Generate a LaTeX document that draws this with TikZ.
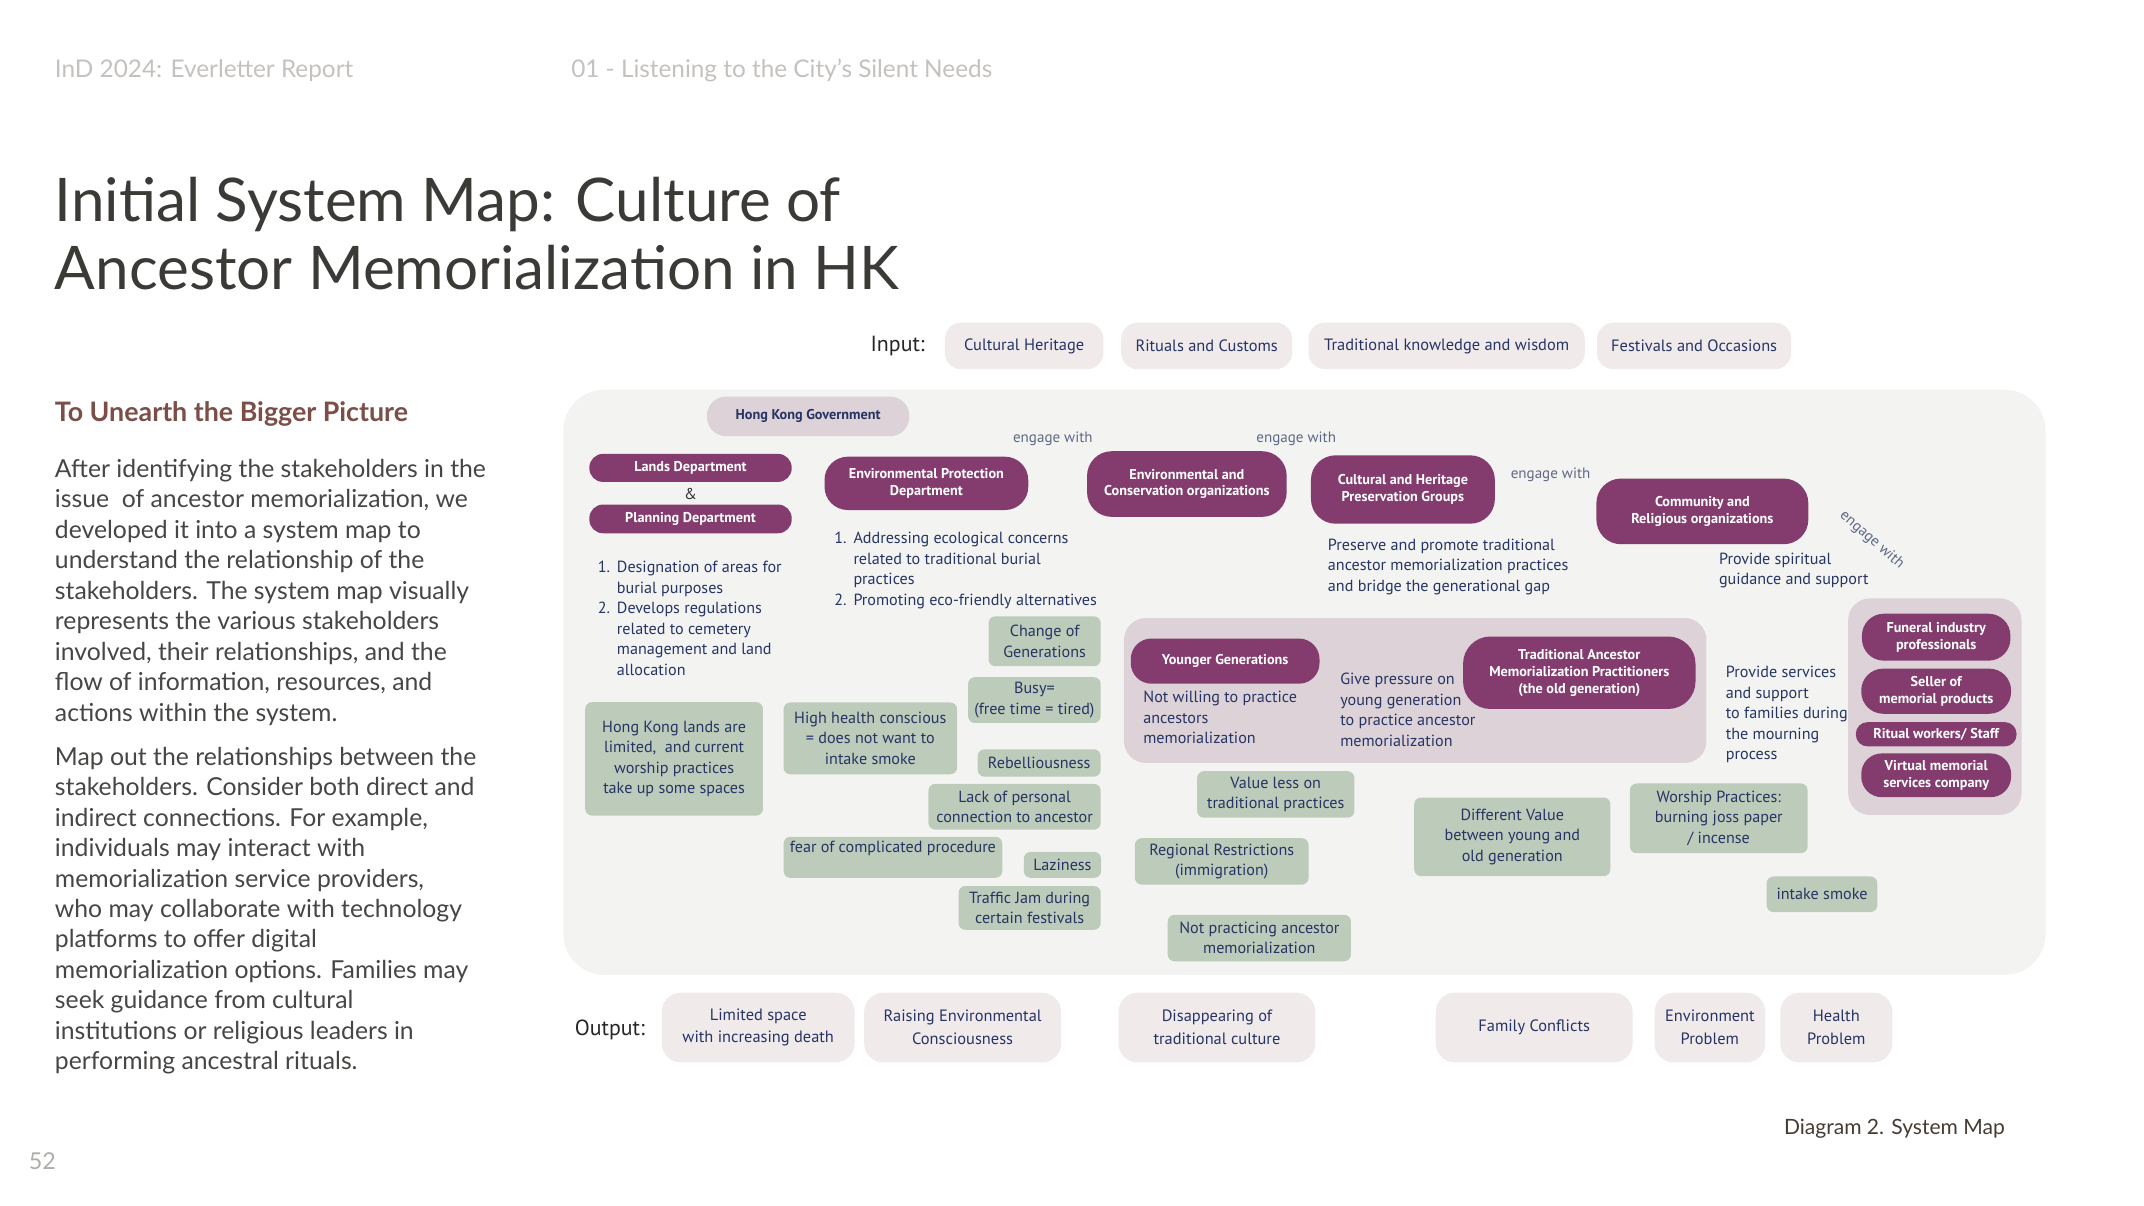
\documentclass[tikz,border=0pt]{standalone}
\usepackage{fontspec}
\setmainfont{Lato}
\newfontfamily\dfont{PT Sans}
\definecolor{navy}{RGB}{38,52,100}
\definecolor{purp}{RGB}{131,60,109}
\definecolor{mauve}{RGB}{221,210,216}
\definecolor{grn}{RGB}{188,203,186}
\definecolor{panelbg}{RGB}{243,244,241}
\definecolor{iobg}{RGB}{240,234,235}
\definecolor{enggray}{RGB}{95,104,135}
\definecolor{hdrgray}{RGB}{196,193,190}
\definecolor{titlecol}{RGB}{60,58,55}
\definecolor{subcol}{RGB}{123,78,72}
\definecolor{paracol}{RGB}{72,70,68}
\definecolor{capcol}{RGB}{70,60,52}
\begin{document}
\begin{tikzpicture}[x=1pt,y=-1pt,
  box/.style={inner sep=0pt, align=center, text=navy, font=\dfont\fontsize{11.8}{15}\selectfont},
  purp/.style={box, fill=purp, text=white, font=\dfont\bfseries\fontsize{10.4}{12.3}\selectfont},
  gov/.style={box, fill=mauve, text=navy, font=\dfont\bfseries\fontsize{10.4}{12.3}\selectfont},
  grnbox/.style={box, fill=grn, rounded corners=5pt},
  io/.style={box, fill=iobg, rounded corners=12pt, font=\dfont\fontsize{12}{14}\selectfont},
  outbox/.style={box, fill=iobg, rounded corners=14pt, font=\dfont\fontsize{12}{16.6}\selectfont},
  lbl/.style={inner sep=0pt, align=left, anchor=base west, text=navy, font=\dfont\fontsize{11.8}{15}\selectfont},
  eng/.style={inner sep=0pt, text=enggray, font=\dfont\fontsize{11}{12}\selectfont},
  iolbl/.style={inner sep=0pt, text=black!85, font=\dfont\fontsize{16}{18}\selectfont},
  hdr/.style={inner sep=0pt, anchor=base west, text=hdrgray, font=\fontsize{17.8}{20}\selectfont},
  para/.style={inner sep=0pt, anchor=base west, align=left, text=paracol, font=\fontsize{18.1}{22.3}\selectfont},
]
\useasboundingbox (0,0) rectangle (1568,882);
\fill[white] (0,0) rectangle (1568,882);

% ---------- left column ----------
\node[hdr] (h1) at (40,56.6) {InD 2024: Everletter Report};
\node[hdr] (h2) at (417.6,56.6) {01 - Listening to the City’s Silent Needs};
\node[inner sep=0pt, anchor=base west, align=left, text=titlecol, font=\fontsize{44}{49.6}\selectfont] (title) at (40,211.6) {Initial System Map: Culture of\\Ancestor Memorialization in HK};
\node[inner sep=0pt, anchor=base west, text=subcol, font=\bfseries\fontsize{19.6}{22}\selectfont] (sub) at (40,308.4) {To Unearth the Bigger Picture};
\node[para] (p1) at (40,527.4) {After identifying the stakeholders in the\\issue\ \ of ancestor memorialization, we\\developed it into a system map to\\understand the relationship of the\\stakeholders. The system map visually\\represents the various stakeholders\\involved, their relationships, and the\\flow of information, resources, and\\actions within the system.};
\node[para] (p2) at (40,782.5) {Map out the relationships between the\\stakeholders. Consider both direct and\\indirect connections. For example,\\individuals may interact with\\memorialization service providers,\\who may collaborate with technology\\platforms to offer digital\\memorialization options. Families may\\seek guidance from cultural\\institutions or religious leaders in\\performing ancestral rituals.};
\node[inner sep=0pt, anchor=base west, text=hdrgray!90!black, font=\fontsize{17}{20}\selectfont] (pg) at (21,855) {52};
\node[inner sep=0pt, anchor=base east, text=capcol, font=\fontsize{15.4}{18}\selectfont] (cap) at (1466.4,830) {Diagram 2. System Map};

% ---------- input row ----------
\node[iolbl] (inlbl) at (656.5,253) {Input:};
\node[io, minimum width=116, minimum height=34] (in1) at (749,253) {Cultural Heritage};
\node[io, minimum width=125, minimum height=34] (in2) at (882.5,253) {Rituals and Customs};
\node[io, minimum width=202, minimum height=34] (in3) at (1058,253) {\raisebox{-2pt}{Traditional knowledge and wisdom}};
\node[io, minimum width=142, minimum height=34] (in4) at (1239,253) {Festivals and Occasions};

% ---------- panel ----------
\fill[panelbg, rounded corners=30pt] (412,285) rectangle (1496,713);
\fill[mauve, rounded corners=16pt] (822,452) rectangle (1248,558);
\fill[mauve, rounded corners=16pt] (1351.6,437.6) rectangle (1478.5,596);

\node[gov, minimum width=148, minimum height=29, rounded corners=14pt] (gov) at (591,304.5) {Hong Kong Government};

\node[purp, minimum width=148, minimum height=20.5, rounded corners=10pt] (lands) at (505,342.2) {Lands Department};
\node[inner sep=0pt, text=black!80, font=\dfont\fontsize{11.5}{12}\selectfont] (amp) at (505,361) {\&};
\node[purp, minimum width=148, minimum height=21, rounded corners=10pt] (plan) at (505,379.5) {Planning Department};
\node[lbl] (list1) at (437,493.8) {\makebox[14pt][l]{1.}Designation of areas for\\\hspace*{14pt}burial purposes\\\makebox[14pt][l]{2.}Develops regulations\\\hspace*{14pt}related to cemetery\\\hspace*{14pt}management and land\\\hspace*{14pt}allocation};

\node[eng] (e1) at (770,321) {engage with};
\node[purp, minimum width=149, minimum height=39, rounded corners=17pt] (epd) at (677.5,353.5) {Environmental Protection\\Department};
\node[lbl] (list2) at (610,442.8) {\makebox[14pt][l]{1.}Addressing ecological concerns\\\hspace*{14pt}related to traditional burial\\\hspace*{14pt}practices\\\makebox[14pt][l]{2.}Promoting eco-friendly alternatives};

\node[eng] (e2) at (948,321) {engage with};
\node[purp, minimum width=146, minimum height=48, rounded corners=18pt] (envcons) at (868,354) {Environmental and\\Conservation organizations};
\node[purp, minimum width=134.5, minimum height=50, rounded corners=18pt] (cult) at (1026,358) {Cultural and Heritage\\Preservation Groups};
\node[eng] (e3) at (1134,347) {engage with};
\node[purp, minimum width=155, minimum height=48, rounded corners=18pt] (comm) at (1245,374) {Community and\\Religious organizations};
\node[eng, rotate=-41] (e4) at (1369,395) {engage with};

\node[lbl] (pres) at (971,432.3) {Preserve and promote traditional\\ancestor memorialization practices\\and bridge the generational gap};
\node[lbl] (spir) at (1257,427.8) {Provide spiritual\\guidance and support};

% generations group
\node[purp, minimum width=138, minimum height=33, rounded corners=15pt] (young) at (896,483.5) {Younger Generations};
\node[lbl] (notw) at (836,543.8) {Not willing to practice\\ancestors\\memorialization};
\node[lbl] (press) at (980,545.8) {Give pressure on\\young generation\\to practice ancestor\\memorialization};
\node[purp, minimum width=170, minimum height=53, rounded corners=20pt] (trad) at (1155,492) {Traditional Ancestor\\Memorialization Practitioners\\(the old generation)};

\node[lbl] (serv) at (1262,555.8) {Provide services\\and support\\to families during\\the mourning\\process};

% service providers group
\node[purp, minimum width=108.6, minimum height=34.3, rounded corners=16pt] (fun) at (1416,466) {Funeral industry\\professionals};
\node[purp, minimum width=109.6, minimum height=33, rounded corners=16pt] (sell) at (1416,505.5) {Seller of\\memorial products};
\node[purp, minimum width=117.5, minimum height=17.7, rounded corners=8.5pt] (rit) at (1416,537) {Ritual workers/ Staff};
\node[purp, minimum width=109.6, minimum height=32, rounded corners=15pt] (virt) at (1416,567) {Virtual memorial\\services company};

% green boxes
\node[grnbox, minimum width=82, minimum height=36.5] (g1) at (764,469) {Change of\\Generations};
\node[grnbox, minimum width=97, minimum height=33.5] (g2) at (756.5,512) {Busy=\\(free time = tired)};
\node[grnbox, minimum width=127, minimum height=52.5] (g3) at (636.5,540) {High health conscious\\= does not want to\\intake smoke};
\node[grnbox, minimum width=90, minimum height=20] (g4) at (760,558) {Rebelliousness};
\node[grnbox, minimum width=126, minimum height=33.5] (g5) at (742,590) {Lack of personal\\connection to ancestor};
\node[grnbox, minimum width=160, minimum height=30] (g6) at (653,627) {fear of complicated procedure\\\mbox{}};
\node[grnbox, minimum width=56.5, minimum height=19] (g7) at (777,632.5) {Laziness};
\node[grnbox, minimum width=104, minimum height=32] (g8) at (753,664) {Traffic Jam during\\certain festivals};
\node[grnbox, minimum width=130, minimum height=83] (g9) at (493,555) {Hong Kong lands are\\limited,\ \ and current\\worship practices\\take up some spaces};
\node[grnbox, minimum width=115, minimum height=34] (g10) at (933,581) {Value less on\\traditional practices};
\node[grnbox, minimum width=127, minimum height=34] (g11) at (893.5,630) {Regional Restrictions\\(immigration)};
\node[grnbox, minimum width=134, minimum height=34] (g12) at (921,686) {Not practicing ancestor\\memorialization};
\node[grnbox, minimum width=143.5, minimum height=57.5] (g13) at (1106,612) {Different Value\\between young and\\old generation};
\node[grnbox, minimum width=130, minimum height=51] (g14) at (1257,598.5) {Worship Practices:\\burning joss paper\\/ incense};
\node[grnbox, minimum width=81, minimum height=26] (g15) at (1332.5,654) {intake smoke};

% ---------- output row ----------
\node[iolbl] (outlbl) at (446,753) {Output:};
\node[outbox, minimum width=141, minimum height=51] (o1) at (554.5,751.5) {Limited space\\with increasing death};
\node[outbox, minimum width=144, minimum height=51] (o2) at (704,751.5) {Raising Environmental\\Consciousness};
\node[outbox, minimum width=144, minimum height=51] (o3) at (890,751.5) {Disappearing of\\traditional culture};
\node[outbox, minimum width=144, minimum height=51] (o4) at (1122,751.5) {Family Conflicts};
\node[outbox, minimum width=81, minimum height=51] (o5) at (1250.5,751.5) {Environment\\Problem};
\node[outbox, minimum width=82, minimum height=51] (o6) at (1343,751.5) {Health\\Problem};
\end{tikzpicture}
\end{document}
